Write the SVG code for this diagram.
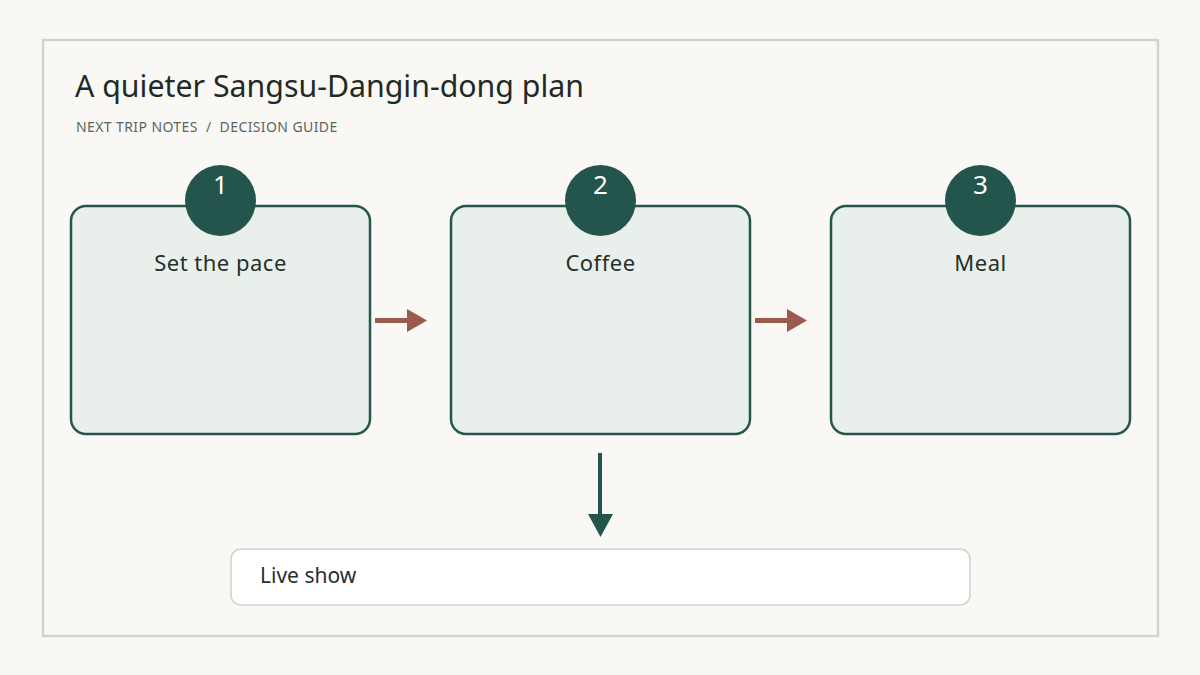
<svg xmlns="http://www.w3.org/2000/svg" width="1200" height="675" viewBox="0 0 1200 675">
<defs>
<style>
.t{font-family:"Noto Sans","Noto Sans CJK KR",sans-serif}
.card{fill:#e9efea;stroke:#24564d;stroke-width:2.5}
.badge{fill:#24554d}
.num{fill:#ffffff;font-size:26px;text-anchor:middle}
.lbl{fill:#25302c;font-size:22px;letter-spacing:0.5px;text-anchor:middle}
.red{stroke:#9b5a4b;stroke-width:5;fill:none}
.redh{fill:#9b5a4b}
</style>
</defs>
<rect x="0" y="0" width="1200" height="675" fill="#f9f8f4"/>
<rect x="43" y="40" width="1115" height="596" fill="#f9f8f4" stroke="#cdd5cc" stroke-width="2.5"/>
<text class="t" x="75" y="97" font-size="30.3" fill="#1f2a26">A quieter Sangsu-Dangin-dong plan</text>
<text class="t" x="76" y="132" font-size="14" letter-spacing="0.4" fill="#5a6660" xml:space="preserve">NEXT TRIP NOTES  /  DECISION GUIDE</text>
<g id="connectors">
<line class="red" x1="375" y1="320.5" x2="409" y2="320.5"/>
<polygon class="redh" points="407,309 427,320.5 407,332"/>
<line class="red" x1="755" y1="320.5" x2="789" y2="320.5"/>
<polygon class="redh" points="787,309 807,320.5 787,332"/>
<line x1="600" y1="453" x2="600" y2="516" stroke="#24554d" stroke-width="4"/>
<polygon fill="#24554d" points="588,514 613,514 600.5,537"/>
</g>
<g id="node1">
<rect class="card" x="71" y="206" width="299" height="228" rx="15"/>
<circle class="badge" cx="220.5" cy="200.5" r="35.5"/>
<text class="t num" x="220.5" y="194">1</text>
<text class="t lbl" x="220.5" y="271">Set the pace</text>
</g>
<g id="node2">
<rect class="card" x="451" y="206" width="299" height="228" rx="15"/>
<circle class="badge" cx="600.5" cy="200.5" r="35.5"/>
<text class="t num" x="600.5" y="194">2</text>
<text class="t lbl" x="600.5" y="271">Coffee</text>
</g>
<g id="node3">
<rect class="card" x="831" y="206" width="299" height="228" rx="15"/>
<circle class="badge" cx="980.5" cy="200.5" r="35.5"/>
<text class="t num" x="980.5" y="194">3</text>
<text class="t lbl" x="980.5" y="271">Meal</text>
</g>
<g id="node4">
<rect x="231" y="549" width="739" height="56" rx="10" fill="#ffffff" stroke="#cdd5cc" stroke-width="1.5"/>
<text class="t" x="260" y="583" font-size="21" fill="#25302c">Live show</text>
</g>
</svg>
